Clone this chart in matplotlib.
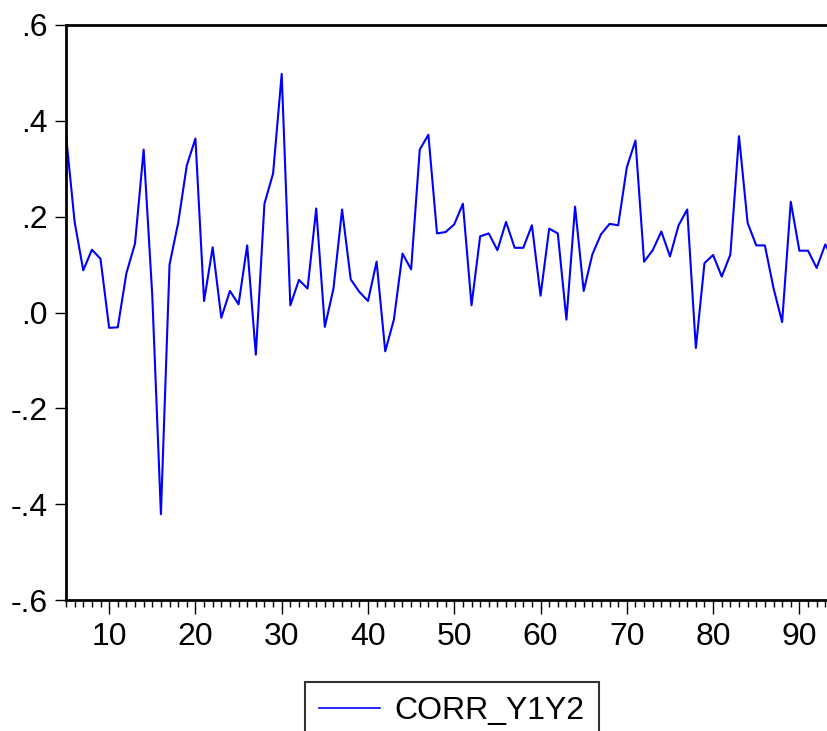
import numpy as np
import matplotlib
matplotlib.use("Agg")
import matplotlib.pyplot as plt
from matplotlib.ticker import MultipleLocator, FuncFormatter

# periodos (observaciones 5..94)
t = np.arange(5, 95)
corr_y1y2 = [
    0.370, 0.189, 0.088, 0.131, 0.112, -0.032, -0.031, 0.082, 0.144, 0.340,
    0.035, -0.421, 0.100, 0.187, 0.307, 0.363, 0.024, 0.136, -0.011, 0.045,
    0.017, 0.140, -0.088, 0.227, 0.290, 0.498, 0.015, 0.068, 0.050, 0.217,
    -0.030, 0.050, 0.215, 0.069, 0.043, 0.024, 0.106, -0.081, -0.015, 0.123,
    0.090, 0.340, 0.371, 0.165, 0.168, 0.184, 0.227, 0.015, 0.159, 0.165,
    0.130, 0.189, 0.135, 0.135, 0.182, 0.035, 0.175, 0.165, -0.015, 0.221,
    0.045, 0.121, 0.163, 0.185, 0.182, 0.303, 0.359, 0.106, 0.130, 0.169,
    0.117, 0.182, 0.215, -0.074, 0.103, 0.120, 0.075, 0.121, 0.368, 0.187,
    0.140, 0.140, 0.051, -0.020, 0.231, 0.129, 0.129, 0.093, 0.142, 0.108,
]
y_ticks = [-0.6, -0.4, -0.2, 0.0, 0.2, 0.4, 0.6]

plt.rcParams['font.family'] = ['Liberation Sans', 'DejaVu Sans']

fig = plt.figure(figsize=(8.27, 7.31), dpi=100)
ax = fig.add_axes([66/827, 1 - 600/731, 1 - 66/827, (600 - 25)/731])

ax.plot(t, corr_y1y2, color='#0000ff', lw=1.5, label='CORR_Y1Y2')

ax.set_xlim(5, 93.2)
ax.set_ylim(-0.6, 0.6)
ax.set_yticks(y_ticks)
ax.yaxis.set_major_formatter(FuncFormatter(
    lambda v, p: ('-' if v < -1e-9 else '') + ('%.1f' % abs(v)).lstrip('0')))
ax.xaxis.set_major_locator(MultipleLocator(10))
ax.xaxis.set_minor_locator(MultipleLocator(1))

for s in ['left', 'top', 'bottom']:
    ax.spines[s].set_linewidth(2.0)
ax.spines['right'].set_visible(False)

ax.tick_params(axis='y', direction='out', length=8, width=1, labelsize=23, pad=5)
ax.tick_params(axis='x', which='major', direction='out', length=10, width=1,
               labelsize=23, pad=6)
ax.tick_params(axis='x', which='minor', direction='out', length=5, width=1)

leg = fig.legend(loc='upper left', bbox_to_anchor=(305/827, 1 - 682/731),
                 fontsize=23, frameon=True, fancybox=False, handlelength=1.9,
                 borderpad=0.45, handletextpad=0.45, borderaxespad=0)
leg.get_frame().set_edgecolor('black')
leg.get_frame().set_linewidth(1.5)
leg.get_lines()[0].set_linewidth(1.2)

fig.savefig('out.png', dpi=100)
